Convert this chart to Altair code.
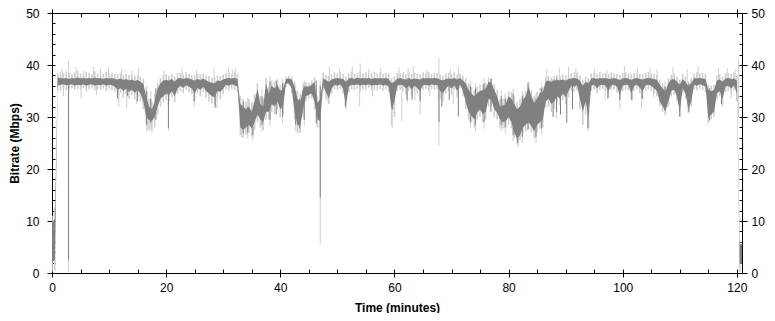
import altair as alt
import pandas as pd

# ---- data (0.5-minute sampling grid) ----
dark_lo = [
    2.0, 2.5, 36.0, 36.2, 36.3, 36.1, 36.2, 36.3, 36.0, 36.2,
    36.1, 36.3, 36.0, 36.2, 36.3, 36.0, 36.2, 36.1, 36.3, 36.0,
    36.2, 36.1, 35.8, 35.2, 35.6, 35.0, 35.5, 34.8, 35.3, 34.6,
    35.2, 34.5, 33.0, 30.0, 29.4, 29.2, 30.0, 32.0, 33.5, 34.0,
    34.5, 34.2, 35.0, 34.0, 35.5, 36.0, 35.6, 36.1, 35.8, 35.5,
    34.5, 35.6, 35.2, 35.8, 35.0, 34.5, 34.0, 33.8, 35.0, 34.8,
    35.5, 36.2, 36.0, 36.3, 36.1, 35.8, 28.0, 27.5, 28.0, 28.5,
    27.8, 29.0, 30.5, 29.5, 29.0, 31.0, 31.0, 32.5, 32.0, 33.0,
    31.5, 32.0, 36.4, 36.5, 35.5, 31.0, 28.5, 28.2, 31.5, 34.0,
    34.3, 34.5, 33.0, 29.5, 29.2, 36.0, 34.8, 33.5, 35.5, 36.2,
    36.0, 36.3, 35.5, 32.2, 35.8, 36.2, 36.1, 36.3, 36.0, 36.2,
    36.1, 36.3, 36.0, 36.2, 36.1, 36.3, 36.0, 36.2, 35.8, 31.5,
    33.0, 36.0, 36.2, 36.1, 35.5, 36.0, 35.3, 36.0, 35.6, 35.0,
    36.1, 36.2, 36.0, 36.3, 36.1, 36.2, 35.0, 34.5, 35.5, 36.0,
    35.5, 36.1, 35.0, 36.3, 35.0, 32.8, 31.0, 30.2, 29.5, 30.8,
    31.5, 30.5, 31.0, 33.5, 33.2, 31.5, 30.8, 29.5, 29.0, 29.2,
    30.0, 29.0, 27.0, 25.8, 26.5, 28.0, 28.5, 29.0, 28.2, 27.2,
    28.5, 29.0, 29.5, 33.0, 33.5, 32.5, 33.0, 34.0, 33.5, 34.5,
    33.8, 35.0, 36.0, 35.8, 36.1, 33.5, 31.0, 33.0, 30.0, 36.0,
    36.2, 35.5, 36.1, 36.2, 36.0, 35.0, 36.1, 36.2, 35.8, 34.2,
    36.0, 36.2, 36.1, 34.5, 36.0, 36.2, 35.6, 35.0, 36.1, 36.2,
    36.0, 35.5, 35.0, 33.0, 32.0, 31.2, 33.0, 35.0, 35.3, 34.0,
    31.0, 35.5, 34.5, 31.5, 33.0, 36.2, 36.0, 36.3, 36.1, 35.8,
    29.8, 30.5, 31.0, 34.5, 35.0, 33.5, 35.8, 36.0, 35.5, 36.1,
    34.5, 2.0, 1.8,
]
dark_hi = [
    9.5, 10.5, 37.6, 37.5, 37.4, 37.5, 37.3, 37.5, 37.4, 37.6,
    37.4, 37.5, 37.4, 37.5, 37.4, 37.6, 37.4, 37.5, 37.3, 37.5,
    37.4, 37.5, 37.3, 37.2, 37.4, 37.1, 37.3, 37.0, 37.2, 36.9,
    37.1, 36.8, 36.4, 34.0, 32.0, 31.5, 33.0, 35.5, 36.5, 37.0,
    37.1, 37.0, 37.3, 36.8, 37.4, 37.5, 37.3, 37.5, 37.4, 37.2,
    37.0, 37.3, 37.1, 37.4, 37.0, 36.8, 36.6, 36.5, 37.0, 36.9,
    37.2, 37.4, 37.5, 37.4, 37.5, 37.3, 32.5, 32.0, 31.5, 32.0,
    31.0, 33.0, 35.5, 32.5, 32.0, 36.5, 34.5, 36.0, 35.5, 36.2,
    35.0, 35.5, 37.3, 37.4, 37.2, 35.8, 33.5, 33.0, 35.5, 35.9,
    35.8, 36.2, 36.8, 32.7, 33.5, 37.4, 37.1, 36.8, 37.2, 37.4,
    37.5, 37.4, 37.3, 36.8, 37.4, 37.5, 37.3, 37.6, 37.4, 37.5,
    37.4, 37.5, 37.3, 37.5, 37.4, 37.5, 37.4, 37.5, 37.3, 36.5,
    36.8, 37.4, 37.5, 37.3, 37.2, 37.5, 37.2, 37.4, 37.3, 37.2,
    37.5, 37.4, 37.5, 37.4, 37.5, 37.4, 37.2, 37.0, 37.3, 37.4,
    37.3, 37.5, 37.2, 37.5, 37.0, 36.5, 35.2, 34.5, 34.0, 34.6,
    35.0, 35.2, 35.5, 36.8, 36.6, 35.2, 34.0, 32.0, 32.2, 32.5,
    34.0, 33.5, 32.5, 31.5, 32.0, 33.3, 34.0, 35.9, 34.0, 32.7,
    33.5, 34.6, 34.8, 36.8, 37.0, 36.8, 37.0, 37.1, 37.0, 37.2,
    37.0, 37.3, 37.4, 37.5, 37.4, 37.0, 36.0, 36.8, 36.5, 37.4,
    37.5, 37.3, 37.5, 37.4, 37.5, 37.3, 37.4, 37.5, 37.3, 37.1,
    37.4, 37.5, 37.4, 37.1, 37.4, 37.5, 37.3, 37.2, 37.4, 37.5,
    37.4, 37.3, 37.1, 36.2, 35.5, 35.0, 36.5, 37.2, 37.3, 36.8,
    36.2, 37.3, 36.8, 35.9, 36.5, 37.5, 37.4, 37.5, 37.4, 37.3,
    35.2, 35.0, 35.2, 37.0, 37.2, 36.8, 37.4, 37.5, 37.3, 37.4,
    37.0, 5.5, 5.6,
]
light_lo = [
    0.3, 0.5, 35.2, 35.0, 35.3, 35.1, 35.4, 35.5, 35.2, 35.4,
    35.3, 35.6, 35.0, 35.4, 35.5, 35.1, 35.3, 35.2, 35.5, 35.0,
    35.4, 35.2, 34.8, 34.0, 34.6, 33.8, 34.4, 33.5, 34.2, 33.4,
    34.0, 33.0, 31.5, 28.5, 27.5, 27.2, 28.0, 30.5, 32.0, 32.8,
    33.2, 33.0, 33.8, 32.8, 34.5, 35.0, 34.6, 35.2, 34.8, 34.4,
    33.2, 34.5, 34.0, 34.8, 33.8, 33.0, 32.6, 32.3, 33.6, 33.4,
    34.4, 35.3, 35.0, 35.4, 35.2, 34.8, 26.5, 26.0, 26.5, 27.0,
    26.2, 27.5, 29.0, 28.0, 27.5, 29.5, 29.5, 31.0, 30.5, 31.5,
    30.0, 30.5, 35.8, 36.0, 34.5, 29.5, 27.0, 27.0, 30.0, 33.0,
    33.5, 33.6, 31.5, 28.0, 28.0, 35.0, 33.5, 32.5, 34.5, 35.3,
    35.1, 35.4, 34.5, 31.5, 34.8, 35.3, 35.1, 35.4, 35.0, 35.3,
    35.2, 35.5, 35.0, 35.3, 35.2, 35.4, 35.1, 35.3, 34.8, 28.5,
    30.0, 35.0, 35.2, 35.0, 34.3, 35.0, 34.0, 35.0, 34.5, 33.5,
    35.2, 35.4, 35.1, 35.4, 35.2, 35.3, 33.5, 33.0, 34.5, 35.0,
    34.3, 35.2, 33.8, 35.5, 34.0, 31.5, 29.5, 29.0, 28.0, 29.5,
    30.0, 29.0, 29.5, 32.0, 32.0, 30.0, 29.5, 28.0, 27.8, 28.0,
    28.5, 27.8, 26.0, 24.7, 25.5, 27.0, 27.2, 27.8, 27.0, 26.0,
    27.0, 27.8, 28.0, 31.8, 32.0, 31.0, 31.5, 32.8, 32.3, 33.3,
    32.5, 33.8, 35.0, 34.8, 35.1, 31.5, 28.5, 30.5, 27.8, 35.0,
    35.3, 34.5, 35.2, 35.4, 35.0, 33.8, 35.2, 35.3, 34.6, 33.2,
    35.0, 35.2, 35.1, 33.5, 35.0, 35.3, 34.5, 33.5, 35.1, 35.3,
    35.0, 34.4, 34.0, 32.0, 31.0, 30.6, 32.0, 34.0, 34.3, 33.0,
    30.0, 34.5, 33.5, 30.8, 32.0, 35.3, 35.1, 35.4, 35.2, 34.8,
    28.8, 29.5, 30.0, 33.5, 34.0, 32.3, 34.8, 35.0, 34.5, 35.1,
    33.0, 0.2, 0.2,
]
light_hi = [
    11.0, 12.5, 38.5, 38.6, 38.4, 38.8, 38.5, 38.3, 38.6, 38.9,
    38.4, 38.2, 38.7, 38.5, 38.3, 38.8, 38.4, 38.6, 38.3, 38.7,
    38.4, 38.5, 38.3, 38.2, 38.4, 38.0, 38.3, 38.1, 38.2, 37.9,
    38.2, 37.8, 37.4, 35.5, 33.5, 33.0, 34.5, 36.5, 37.5, 38.0,
    38.2, 38.0, 38.3, 37.8, 38.5, 38.4, 38.2, 38.6, 38.3, 38.1,
    38.0, 38.3, 38.2, 38.4, 38.0, 37.9, 37.6, 37.5, 38.0, 37.9,
    38.2, 38.5, 38.6, 38.3, 38.7, 38.2, 34.0, 33.5, 33.0, 33.5,
    32.8, 34.5, 36.5, 34.0, 33.5, 37.5, 35.8, 37.0, 36.8, 37.3,
    36.2, 36.5, 37.8, 37.9, 37.8, 36.8, 35.0, 34.5, 36.5, 36.8,
    36.6, 37.0, 37.6, 34.0, 35.0, 38.5, 38.1, 37.9, 38.2, 38.6,
    38.4, 38.7, 38.3, 37.8, 38.4, 38.6, 38.3, 38.5, 38.8, 38.4,
    38.6, 38.3, 38.5, 38.7, 38.4, 38.6, 38.3, 38.5, 38.4, 37.5,
    37.8, 38.5, 38.4, 38.6, 38.2, 38.6, 38.3, 38.5, 38.3, 38.2,
    38.6, 38.4, 38.7, 38.3, 38.5, 38.4, 38.2, 38.0, 38.4, 38.5,
    38.3, 38.6, 38.2, 38.4, 38.0, 37.5, 36.5, 35.8, 35.2, 35.8,
    36.2, 36.3, 36.5, 37.6, 37.5, 36.3, 35.2, 33.3, 33.5, 33.8,
    35.0, 34.8, 34.0, 33.0, 33.5, 34.5, 35.0, 36.8, 35.2, 34.0,
    34.8, 35.6, 35.8, 37.6, 37.8, 37.6, 37.9, 38.0, 38.0, 38.2,
    38.0, 38.3, 38.4, 38.6, 38.5, 38.0, 37.2, 37.8, 37.5, 38.4,
    38.6, 38.3, 38.7, 38.4, 38.5, 38.3, 38.6, 38.4, 38.3, 38.1,
    38.5, 38.6, 38.4, 38.2, 38.5, 38.4, 38.3, 38.2, 38.5, 38.7,
    38.4, 38.3, 38.1, 37.2, 36.5, 36.0, 37.5, 38.2, 38.3, 37.8,
    37.2, 38.3, 37.8, 36.8, 37.5, 38.4, 38.6, 38.4, 38.5, 38.3,
    36.2, 36.0, 36.2, 38.0, 38.2, 37.8, 38.4, 38.5, 38.3, 38.6,
    38.0, 6.2, 6.0,
]

# thin spikes (minute, low, high)
light_spike_t = [
    2.9, 20.4, 47.0, 67.8, 81.7, 93.9, 16.8, 33.2, 43.1, 84.6,
    1.8, 4.2, 5.6, 7.3, 8.5, 9.9, 12.2, 14.0, 15.2, 19.6,
    22.8, 25.3, 28.4, 30.9, 31.6, 32.2, 48.6, 50.4, 52.6, 54.0,
    55.5, 57.6, 60.8, 62.4, 63.3, 65.7, 69.8, 71.2, 86.7, 88.9,
    90.5, 91.8, 95.1, 97.2, 100.3, 102.6, 104.8, 106.0, 108.8, 111.3,
    113.2, 116.8, 118.3, 119.7, 120.3,
    2.0, 5.1, 7.8, 11.7, 13.1, 14.8, 24.9, 28.9, 48.2, 53.9,
    56.2, 61.3, 62.3, 63.6, 64.5, 66.2, 70.3, 96.9, 99.5, 101.6,
    103.3, 105.4, 117.4, 119.0, 59.6,
    34.3, 35.2, 36.8, 38.2, 40.4, 42.7, 44.2, 73.3, 74.2, 75.7,
    78.7, 79.4, 80.8, 82.4, 84.8, 85.8, 88.4, 16.6, 17.3, 107.4,
]
light_spike_lo = [
    0.3, 27.3, 5.5, 24.5, 24.2, 27.3, 27.3, 26.0, 26.8, 25.8,
    36.5, 36.5, 36.5, 36.5, 36.5, 36.5, 36.5, 36.5, 36.5, 36.5,
    36.5, 36.5, 36.5, 36.5, 36.5, 36.5, 36.5, 36.5, 36.5, 36.5,
    36.5, 36.5, 36.5, 36.5, 36.5, 36.5, 36.5, 36.5, 36.5, 36.5,
    36.5, 36.5, 36.5, 36.5, 36.5, 36.5, 36.5, 36.5, 36.5, 36.5,
    36.5, 36.5, 36.5, 36.5, 30.0,
    34.0, 33.5, 34.2, 32.0, 31.7, 32.5, 32.0, 31.7, 33.0, 32.0,
    34.0, 29.2, 32.8, 33.3, 30.5, 34.0, 32.5, 33.3, 31.5, 33.0,
    31.5, 33.8, 32.0, 33.5, 27.9,
    25.8, 25.5, 27.2, 28.3, 28.8, 27.3, 28.3, 27.8, 27.3, 27.8,
    27.3, 26.8, 25.3, 25.0, 25.0, 26.6, 29.8, 27.3, 27.6, 30.2,
]
light_spike_hi = [
    40.8, 37.5, 37.0, 41.3, 30.0, 37.0, 30.0, 30.0, 30.0, 29.0,
    39.2, 39.5, 38.9, 39.8, 39.2, 39.6, 39.3, 39.0, 39.4, 39.0,
    39.5, 39.1, 39.4, 39.6, 39.1, 39.4, 39.7, 39.4, 39.8, 40.3,
    39.2, 39.4, 39.6, 39.5, 39.8, 39.1, 39.3, 39.6, 39.2, 39.5,
    39.6, 39.4, 39.5, 39.0, 39.8, 39.3, 39.4, 39.1, 39.6, 39.2,
    39.7, 39.5, 39.4, 39.1, 41.2,
    36.5, 36.5, 36.5, 36.5, 36.5, 36.5, 36.5, 36.5, 36.5, 36.5,
    36.5, 36.5, 36.5, 36.5, 36.5, 36.5, 36.5, 36.5, 36.5, 36.5,
    36.5, 36.5, 36.5, 36.5, 36.5,
    33.8, 33.0, 35.5, 37.8, 37.3, 36.0, 37.0, 37.0, 36.5, 37.5,
    35.0, 34.5, 35.5, 35.0, 34.5, 36.5, 38.2, 36.0, 35.0, 36.8,
]
dark_spike_t = [
    2.9, 20.4, 47.0, 67.8, 81.6, 93.9, 110.0,
    11.5, 13.2, 15.0, 24.9, 28.6, 51.4, 59.7, 62.2, 63.1, 64.5,
    68.3, 69.6, 71.2, 90.2, 97.4, 99.5, 101.6, 103.4, 117.3,
    33.5, 34.3, 35.2, 36.8, 38.2, 39.3, 40.4, 42.7, 43.4, 44.2,
    46.3, 73.3, 74.2, 75.7, 76.9, 78.7, 79.4, 80.8, 82.4, 83.4,
    84.8, 85.8, 87.8, 88.4, 89.1, 91.2, 16.6, 17.3, 18.2, 107.4,
    115.2, 111.6,
]
dark_spike_lo = [
    2.5, 27.9, 14.5, 29.0, 25.0, 27.9, 30.1,
    33.5, 34.0, 33.0, 33.0, 31.8, 32.0, 31.4, 33.3, 33.3, 33.0,
    32.0, 33.3, 30.1, 28.9, 33.5, 33.3, 33.3, 33.5, 32.5,
    26.8, 27.0, 26.5, 28.5, 29.5, 30.5, 30.0, 28.5, 27.8, 29.5,
    28.8, 29.0, 28.5, 29.0, 31.0, 28.5, 28.0, 26.5, 26.2, 27.5,
    26.2, 27.8, 30.0, 31.0, 30.5, 31.5, 28.5, 28.8, 29.5, 31.2,
    29.3, 31.0,
]
dark_spike_hi = [
    36.5, 36.0, 36.0, 37.0, 30.0, 36.0, 36.0,
    36.5, 36.5, 36.5, 36.5, 36.5, 36.5, 36.5, 36.5, 36.5, 36.5,
    36.5, 36.5, 36.5, 36.5, 36.5, 36.5, 36.5, 36.5, 36.5,
    33.0, 32.0, 31.0, 34.0, 36.8, 37.0, 36.5, 35.0, 33.5, 36.0,
    37.0, 36.0, 35.5, 36.5, 37.3, 34.0, 33.5, 34.5, 34.0, 36.5,
    33.5, 35.5, 37.2, 37.4, 37.2, 37.3, 35.0, 33.5, 35.5, 35.8,
    35.5, 36.5,
]

x_major = [0, 20, 40, 60, 80, 100, 120]
x_all = list(range(0, 121, 5))
y_major = [0, 10, 20, 30, 40, 50]
y_all = list(range(0, 51, 2))

W, H = 690, 260
FONT = "Liberation Sans"
DARK = "#808080"
LIGHT = "#cfcfcf"

band = pd.DataFrame({
    "minute": [i * 0.5 for i in range(len(dark_lo))],
    "dark_lo": dark_lo, "dark_hi": dark_hi,
    "light_lo": light_lo, "light_hi": light_hi,
})
lspk = pd.DataFrame({"minute": light_spike_t, "lo": light_spike_lo, "hi": light_spike_hi})
dspk = pd.DataFrame({"minute": dark_spike_t, "lo": dark_spike_lo, "hi": dark_spike_hi})

xs = alt.Scale(domain=[0, 120.9], nice=False, zero=False)
ys = alt.Scale(domain=[0, 50], nice=False, zero=False)

common = dict(grid=False, tickColor="black", domainColor="black", labelColor="black",
              labelFont=FONT, labelFontSize=12, titleFont=FONT, titleFontSize=12,
              titleFontWeight="bold", titleColor="black", tickWidth=1, domainWidth=1)

ax_bottom = alt.Axis(orient="bottom", values=x_major, tickSize=4, labelPadding=5,
                     title="Time (minutes)", titlePadding=9, labelFlush=False, **common)
ax_bottom_in = alt.Axis(orient="top", offset=-H, values=x_all, tickSize=4, labels=False,
                        domain=False, title=None, **common)
ax_top = alt.Axis(orient="top", values=x_major, tickSize=4, labels=False, title=None, **common)
ax_top_in = alt.Axis(orient="bottom", offset=-H, values=x_all, tickSize=4, labels=False,
                     domain=False, title=None, **common)

ax_left = alt.Axis(orient="left", values=y_major, tickSize=5, labelPadding=8,
                   title="Bitrate (Mbps)", titlePadding=4, **common)
ax_left_in = alt.Axis(orient="right", offset=-W, values=y_all, tickSize=3, labels=False,
                      domain=False, title=None, **common)
ax_right = alt.Axis(orient="right", values=y_major, tickSize=5, labelPadding=4,
                    title=None, **common)
ax_right_in = alt.Axis(orient="left", offset=-W, values=y_all, tickSize=3, labels=False,
                       domain=False, title=None, **common)

light_band = alt.Chart(band).mark_rule(color=LIGHT, strokeWidth=1.6, clip=True).encode(
    x=alt.X("minute:Q", scale=xs, axis=ax_bottom),
    y=alt.Y("light_lo:Q", scale=ys, axis=ax_left),
    y2="light_hi:Q",
)
light_rules = alt.Chart(lspk).mark_rule(color=LIGHT, strokeWidth=1, clip=True).encode(
    x=alt.X("minute:Q", scale=xs, axis=ax_bottom_in),
    y=alt.Y("lo:Q", scale=ys, axis=ax_left_in),
    y2="hi:Q",
)
dark_area = alt.Chart(band).mark_area(color=DARK, clip=True).encode(
    x=alt.X("minute:Q", scale=xs, axis=ax_top),
    y=alt.Y("dark_lo:Q", scale=ys, axis=ax_right),
    y2="dark_hi:Q",
)
dark_rules = alt.Chart(dspk).mark_rule(color=DARK, strokeWidth=1, clip=True).encode(
    x=alt.X("minute:Q", scale=xs, axis=ax_top_in),
    y=alt.Y("lo:Q", scale=ys, axis=ax_right_in),
    y2="hi:Q",
)

chart = alt.layer(light_band, light_rules, dark_area, dark_rules).resolve_axis(
    x="independent", y="independent"
).properties(
    width=W, height=H,
    autosize=alt.AutoSizeParams(type="none"),
    padding={"left": 44, "top": 5, "right": 25, "bottom": 40},
    background="white",
).configure_view(stroke=None)

chart.save("out.html", embed_options={"renderer": "svg", "actions": False})
